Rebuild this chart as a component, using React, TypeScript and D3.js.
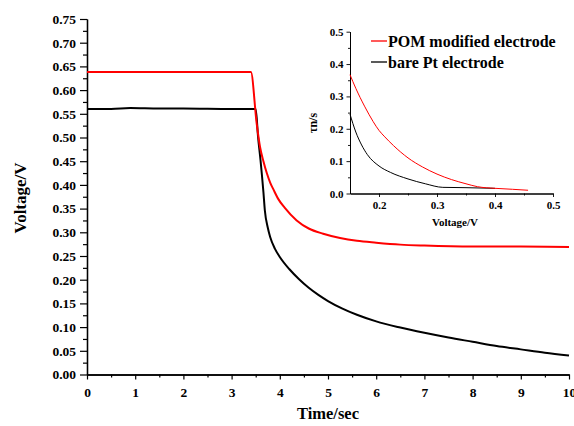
import React, { useRef, useEffect } from "react";
import * as d3 from "d3";

// main plot: voltage decay after switching off
const mainTicksX = [0, 1, 2, 3, 4, 5, 6, 7, 8, 9, 10];
const mainTicksY = [0, 0.05, 0.1, 0.15, 0.2, 0.25, 0.3, 0.35, 0.4, 0.45, 0.5, 0.55, 0.6, 0.65, 0.7, 0.75];

const pomTime = [0, 0.9, 2, 3.4, 3.52, 3.59, 3.66, 3.73, 3.8, 3.87, 3.97, 4.1, 4.35, 4.6, 4.9, 5.25, 5.6, 6.0, 6.5, 7.0, 8.0, 9.0, 10];
const pomVolt = [0.638, 0.638, 0.638, 0.638, 0.53, 0.48, 0.45, 0.425, 0.405, 0.39, 0.37, 0.352, 0.325, 0.308, 0.297, 0.288, 0.282, 0.278, 0.274, 0.272, 0.27, 0.27, 0.269];

const ptTime = [0, 0.5, 0.9, 1.5, 2, 3, 3.5, 3.55, 3.6, 3.66, 3.69, 3.75, 3.8, 3.9, 4.0, 4.2, 4.4, 4.6, 4.8, 5.0, 5.3, 5.6, 6.0, 6.5, 7.0, 7.5, 8.0, 8.5, 9.0, 9.5, 10];
const ptVolt = [0.56, 0.56, 0.562, 0.561, 0.561, 0.56, 0.56, 0.5, 0.452, 0.385, 0.346, 0.31, 0.29, 0.265, 0.248, 0.222, 0.201, 0.183, 0.168, 0.155, 0.139, 0.126, 0.112, 0.099, 0.088, 0.078, 0.069, 0.06, 0.053, 0.046, 0.04];

// inset: electron lifetime vs voltage
const insetTicksX = [0.2, 0.3, 0.4, 0.5];
const insetTicksY = [0, 0.1, 0.2, 0.3, 0.4, 0.5];

const pomInsetV = [0.15, 0.16, 0.175, 0.19, 0.2, 0.21, 0.225, 0.25, 0.275, 0.3, 0.325, 0.35, 0.37, 0.4, 0.43, 0.457];
const pomInsetTau = [0.367, 0.325, 0.27, 0.222, 0.195, 0.175, 0.148, 0.11, 0.082, 0.06, 0.043, 0.03, 0.021, 0.016, 0.013, 0.01];

const ptInsetV = [0.15, 0.16, 0.17, 0.18, 0.2, 0.22, 0.25, 0.28, 0.31, 0.35, 0.4];
const ptInsetTau = [0.245, 0.19, 0.15, 0.12, 0.085, 0.065, 0.045, 0.03, 0.019, 0.018, 0.016];

const legendNames = ["POM modified electrode", "bare Pt electrode"];
const legendColors = ["#ff0000", "#000000"];

const FONT = "Liberation Serif, Times New Roman, DejaVu Serif, serif";

export default function App() {
  const svgRef = useRef<SVGSVGElement>(null);

  useEffect(() => {
    const svg = d3.select(svgRef.current);
    svg.selectAll("*").remove();

    // ---- main scales
    const x = d3.scaleLinear().domain([0, 10]).range([87, 569]);
    const y = d3.scaleLinear().domain([0, 0.75]).range([374.5, 19]);

    const styleAxis = (g: any, size: number, w = 1.3) => {
      g.select(".domain").attr("stroke", "#000").attr("stroke-width", w);
      g.selectAll(".tick line").attr("stroke", "#000").attr("stroke-width", w - 0.1);
      g.selectAll("text")
        .attr("font-family", FONT)
        .attr("font-weight", "bold")
        .attr("font-size", size)
        .attr("fill", "#000");
    };

    // minor ticks first, major on top
    const minorX = d3.range(0.5, 10, 1);
    svg.append("g")
      .attr("transform", `translate(0,${y(0)})`)
      .call(d3.axisBottom(x).tickValues(minorX).tickSize(3).tickSizeOuter(0).tickFormat(() => ""))
      .call((g) => styleAxis(g, 13));
    const gx = svg.append("g")
      .attr("transform", `translate(0,${y(0)})`)
      .call(d3.axisBottom(x).tickValues(mainTicksX).tickSize(5).tickSizeOuter(0).tickPadding(10).tickFormat(d3.format("d")))
      .call((g) => styleAxis(g, 13.5));
    gx.selectAll("text").attr("dy", "0.55em");

    const minorY = d3.range(0.025, 0.75, 0.05);
    svg.append("g")
      .attr("transform", `translate(${x(0)},0)`)
      .call(d3.axisLeft(y).tickValues(minorY).tickSize(4).tickSizeOuter(0).tickFormat(() => ""))
      .call((g) => styleAxis(g, 13));
    svg.append("g")
      .attr("transform", `translate(${x(0)},0)`)
      .call(d3.axisLeft(y).tickValues(mainTicksY).tickSize(7).tickSizeOuter(0).tickPadding(4).tickFormat(d3.format(".2f")))
      .call((g) => styleAxis(g, 13.5));

    const line = d3.line<[number, number]>()
      .x((d) => x(d[0]))
      .y((d) => y(d[1]))
      .curve(d3.curveMonotoneX);

    svg.append("path")
      .attr("d", line(ptTime.map((t, i) => [t, ptVolt[i]]) as [number, number][]))
      .attr("fill", "none").attr("stroke", "#000").attr("stroke-width", 2);
    svg.append("path")
      .attr("d", line(pomTime.map((t, i) => [t, pomVolt[i]]) as [number, number][]))
      .attr("fill", "none").attr("stroke", "#ff0000").attr("stroke-width", 2);

    // axis titles
    svg.append("text")
      .attr("x", 328).attr("y", 419)
      .attr("text-anchor", "middle")
      .attr("font-family", FONT).attr("font-weight", "bold").attr("font-size", 16.5)
      .text("Time/sec");
    svg.append("text")
      .attr("transform", "translate(26,198) rotate(-90)")
      .attr("text-anchor", "middle")
      .attr("font-family", FONT).attr("font-weight", "bold").attr("font-size", 17)
      .text("Voltage/V");

    // ---- inset
    const ix = d3.scaleLinear().domain([0.15, 0.5]).range([350, 553]);
    const iy = d3.scaleLinear().domain([0, 0.5]).range([193.5, 31.7]);

    svg.append("g")
      .attr("transform", `translate(0,${iy(0)})`)
      .call(d3.axisBottom(ix).tickValues([0.25, 0.35, 0.45]).tickSize(2).tickSizeOuter(0).tickFormat(() => ""))
      .call((g) => styleAxis(g, 11, 1));
    svg.append("g")
      .attr("transform", `translate(0,${iy(0)})`)
      .call(d3.axisBottom(ix).tickValues(insetTicksX).tickSize(3.5).tickSizeOuter(0).tickPadding(4).tickFormat(d3.format(".1f")))
      .call((g) => styleAxis(g, 11, 1));
    svg.append("g")
      .attr("transform", `translate(${ix(0.15)},0)`)
      .call(d3.axisLeft(iy).tickValues(d3.range(0.05, 0.5, 0.1)).tickSize(2).tickSizeOuter(0).tickFormat(() => ""))
      .call((g) => styleAxis(g, 11, 1));
    svg.append("g")
      .attr("transform", `translate(${ix(0.15)},0)`)
      .call(d3.axisLeft(iy).tickValues(insetTicksY).tickSize(3.5).tickSizeOuter(0).tickPadding(3).tickFormat(d3.format(".1f")))
      .call((g) => styleAxis(g, 11, 1));

    const iline = d3.line<[number, number]>()
      .x((d) => ix(d[0]))
      .y((d) => iy(d[1]))
      .curve(d3.curveMonotoneX);
    svg.append("path")
      .attr("d", iline(ptInsetV.map((v, i) => [v, ptInsetTau[i]]) as [number, number][]))
      .attr("fill", "none").attr("stroke", "#000").attr("stroke-width", 1);
    svg.append("path")
      .attr("d", iline(pomInsetV.map((v, i) => [v, pomInsetTau[i]]) as [number, number][]))
      .attr("fill", "none").attr("stroke", "#ff0000").attr("stroke-width", 1);

    svg.append("text")
      .attr("x", 455).attr("y", 226)
      .attr("text-anchor", "middle")
      .attr("font-family", FONT).attr("font-weight", "bold").attr("font-size", 11)
      .text("Voltage/V");
    svg.append("text")
      .attr("transform", "translate(317,123) rotate(-90)")
      .attr("text-anchor", "middle")
      .attr("font-family", FONT).attr("font-weight", "bold").attr("font-size", 12)
      .text("τn/s");

    // legend
    const leg = svg.append("g");
    legendNames.forEach((name, i) => {
      const ly = 41 + i * 21;
      leg.append("line")
        .attr("x1", 371).attr("x2", 387).attr("y1", ly).attr("y2", ly)
        .attr("stroke", legendColors[i]).attr("stroke-width", 1.3);
      leg.append("text")
        .attr("x", 388).attr("y", ly + 5.5)
        .attr("font-family", FONT).attr("font-weight", "bold").attr("font-size", 16)
        .text(name);
    });
  }, []);

  return (
    <div style={{ position: "absolute", left: 0, top: 0 }}>
      <svg ref={svgRef} width={574} height={426} style={{ display: "block", background: "#fff" }} />
    </div>
  );
}
